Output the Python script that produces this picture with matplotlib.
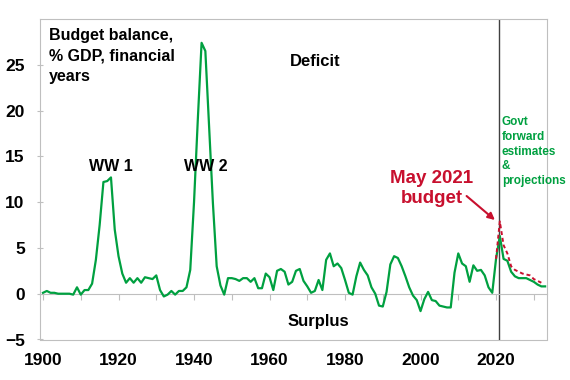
import matplotlib
matplotlib.use("Agg")
import matplotlib.pyplot as plt

plt.rcParams['font.family'] = ['Liberation Sans', 'DejaVu Sans']
plt.rcParams['font.weight'] = 'bold'

# budget balance, % GDP (deficit positive), financial years
years = list(range(1900, 2034))
balance = [0.1, 0.3, 0.1, 0.1, 0.0, 0.0, 0.0, 0.0, -0.1, 0.7,
           -0.1, 0.4, 0.4, 1.1, 3.7, 7.5, 12.2, 12.3, 12.7, 7.0,
           4.1, 2.2, 1.2, 1.7, 1.2, 1.7, 1.2, 1.8, 1.7, 1.6,
           2.0, 0.4, -0.3, -0.1, 0.3, -0.1, 0.3, 0.3, 0.7, 2.6,
           10.0, 19.0, 27.4, 26.5, 18.2, 9.9, 3.0, 0.9, -0.1, 1.7,
           1.7, 1.6, 1.4, 1.7, 1.7, 1.3, 1.7, 0.6, 0.6, 2.2,
           1.8, 0.4, 2.5, 2.7, 2.4, 1.0, 1.3, 2.5, 2.7, 1.4,
           0.8, 0.1, 0.3, 1.5, 0.4, 3.7, 4.4, 3.0, 3.3, 2.8,
           1.5, 0.1, -0.1, 1.9, 3.4, 2.6, 2.0, 0.7, 0.0, -1.3,
           -1.4, 0.2, 3.2, 4.1, 3.9, 3.0, 1.9, 0.7, -0.2, -0.7,
           -1.9, -0.6, 0.2, -0.7, -0.8, -1.3, -1.4, -1.5, -1.5, 2.3,
           4.4, 3.3, 3.0, 1.3, 3.1, 2.5, 2.6, 2.0, 0.7, 0.1,
           3.8, 6.3, 3.8, 3.6, 2.4, 1.9, 1.7, 1.7, 1.7, 1.5,
           1.3, 1.0, 0.8, 0.8]

# May 2021 budget estimates
budget_years = list(range(2020, 2033))
budget = [3.8, 7.9, 5.3, 4.4, 3.0, 2.6, 2.4, 2.2, 2.1, 2.0, 1.6, 1.4, 1.2]

green = '#00A040'
red = '#C8102E'
grey = '#BFBFBF'

fig = plt.figure(figsize=(5.7, 3.8), dpi=100)
ax = fig.add_axes([40/570, 1 - 339.5/380, 507/570, 320.5/380])

ax.plot(years, balance, color=green, lw=1.6, zorder=3)
ax.plot(budget_years, budget, color=red, lw=1.4, ls=(0, (2, 1.5)), zorder=4)
ax.axvline(2020.8, color='#404040', lw=1.0, zorder=2)

ax.set_xlim(1899.2, 2033.5)
ax.set_ylim(-5, 30)

for s in ['top', 'left', 'right']:
    ax.spines[s].set_color(grey)
ax.spines['bottom'].set_position(('data', 0))
ax.spines['bottom'].set_color(grey)
ax.set_xticks(range(1900, 2031, 10))
ax.tick_params(axis='x', direction='out', length=4, color=grey, labelbottom=False)
ax.set_yticks(range(-5, 26, 5))
ax.tick_params(axis='y', direction='inout', length=4, color=grey, pad=9, labelsize=12.5)

sec = ax.secondary_xaxis(0)
sec.set_xticks(range(1900, 2021, 20))
sec.tick_params(length=0, pad=10, labelsize=12.5)
sec.spines['bottom'].set_color(grey)

ax.text(1901.5, 29.0, 'Budget balance,\n% GDP, financial\nyears', fontsize=11.5,
        va='top', ha='left', linespacing=1.45)
ax.text(1918, 13.9, 'WW 1', fontsize=11.5, ha='center', va='center')
ax.text(1943, 13.9, 'WW 2', fontsize=11.5, ha='center', va='center')
ax.text(1972, 25.4, 'Deficit', fontsize=12, ha='center', va='center')
ax.text(1973, -3.0, 'Surplus', fontsize=12, ha='center', va='center')
ax.text(2003, 11.5, 'May 2021\nbudget', fontsize=13.5, color=red, ha='center', va='center',
        linespacing=1.25)
ax.annotate('', xy=(2019.7, 8.05), xytext=(2012.2, 10.67),
            arrowprops=dict(arrowstyle='-|>', color=red, lw=1.5, mutation_scale=10,
                            shrinkA=0, shrinkB=0))
ax.text(2021.5, 15.5, 'Govt\nforward\nestimates\n&\nprojections', fontsize=8.5,
        color=green, ha='left', va='center', linespacing=1.3)

fig.savefig('out.png', dpi=100)
